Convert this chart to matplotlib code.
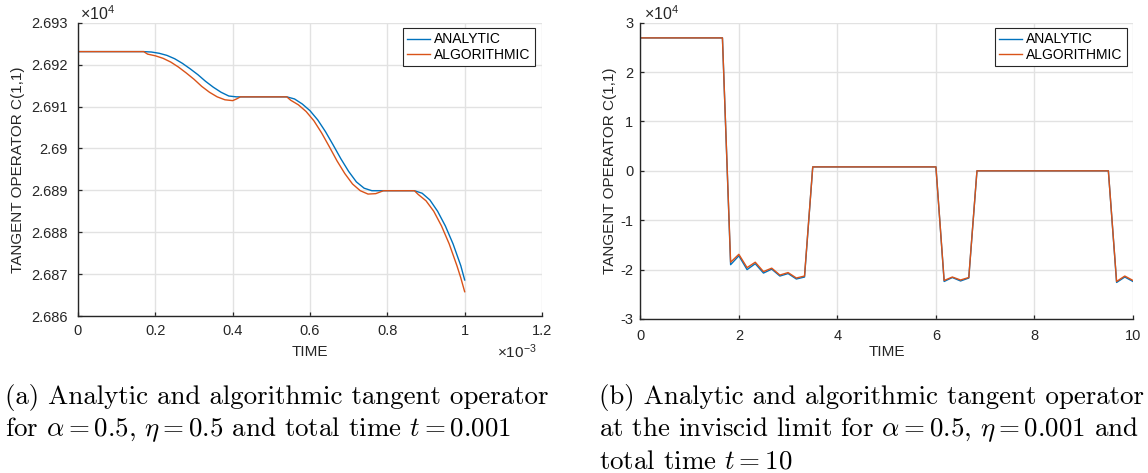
"""Tangent operator C(1,1): analytic vs algorithmic, two panels with captions."""
import matplotlib
matplotlib.use("Agg")
import matplotlib.pyplot as plt
from matplotlib.ticker import FuncFormatter

# ---- panel (a): eta = 0.5, t = 0.001 (time in 1e-3 s, C in 1e4) ----
t_ana_a = [0.00, 0.17, 0.19, 0.21, 0.23, 0.25, 0.27, 0.29, 0.31, 0.33, 0.35,
           0.37, 0.39, 0.41, 0.54, 0.56, 0.58, 0.60, 0.62, 0.64, 0.66, 0.68,
           0.70, 0.72, 0.74, 0.76, 0.87, 0.89, 0.91, 0.93, 0.95, 0.97, 0.99, 1.00]
c_ana_a = [2.69231, 2.69231, 2.69230, 2.69227, 2.69222, 2.69214, 2.69203,
           2.69190, 2.69176, 2.69160, 2.69146, 2.69134, 2.69125, 2.69123,
           2.69123, 2.69118, 2.69106, 2.69090, 2.69068, 2.69040, 2.69008,
           2.68975, 2.68945, 2.68920, 2.68905, 2.68899, 2.68899, 2.68893,
           2.68877, 2.68850, 2.68815, 2.68772, 2.68720, 2.68686]
t_alg_a = [0.00, 0.17, 0.18, 0.20, 0.22, 0.24, 0.26, 0.28, 0.30, 0.32, 0.34,
           0.36, 0.38, 0.40, 0.41, 0.42, 0.54, 0.55, 0.57, 0.59, 0.61, 0.63,
           0.65, 0.67, 0.69, 0.71, 0.73, 0.75, 0.77, 0.79, 0.87, 0.88, 0.90,
           0.92, 0.94, 0.96, 0.98, 0.99, 1.00]
c_alg_a = [2.69231, 2.69231, 2.69225, 2.69221, 2.69215, 2.69206, 2.69194,
           2.69180, 2.69165, 2.69148, 2.69134, 2.69123, 2.69116, 2.69114,
           2.69118, 2.69123, 2.69123, 2.69115, 2.69104, 2.69088, 2.69066,
           2.69037, 2.69004, 2.68970, 2.68940, 2.68915, 2.68899, 2.68891,
           2.68892, 2.68899, 2.68899, 2.68890, 2.68875, 2.68850, 2.68815,
           2.68772, 2.68720, 2.68691, 2.68658]

# ---- panel (b): inviscid limit, t = 10 (C in 1e4) ----
t_b = [0.0, 1.667, 1.833, 2.0, 2.167, 2.333, 2.5, 2.667, 2.833, 3.0, 3.167,
       3.333, 3.5, 6.0, 6.167, 6.333, 6.5, 6.667, 6.833, 9.5, 9.667, 9.833, 10.0]
c_ana_b = [2.6923, 2.6923, -1.90, -1.72, -2.00, -1.88, -2.07, -1.99, -2.13,
           -2.08, -2.19, -2.15, 0.08, 0.08, -2.24, -2.16, -2.23, -2.17, 0.00,
           0.00, -2.26, -2.15, -2.24]
c_alg_b = [2.6923, 2.6923, -1.85, -1.69, -1.96, -1.85, -2.04, -1.97, -2.11,
           -2.06, -2.17, -2.13, 0.08, 0.08, -2.22, -2.15, -2.21, -2.16, 0.00,
           0.00, -2.24, -2.13, -2.22]

labels = ["ANALYTIC", "ALGORITHMIC"]
captions_a = ["(a) Analytic and algorithmic tangent operator",
              r"for $\alpha = 0.5$, $\eta = 0.5$ and total time $t = 0.001$"]
captions_b = ["(b) Analytic and algorithmic tangent operator",
              r"at the inviscid limit for $\alpha = 0.5$, $\eta = 0.001$ and",
              r"total time $t = 10$"]

BLUE = "#0072BD"
ORANGE = "#D95319"
DARK = "#262626"

plt.rcParams["font.family"] = ["Liberation Sans", "DejaVu Sans"]
plt.rcParams["mathtext.fontset"] = "cm"
plt.rcParams["mathtext.rm"] = "Liberation Sans"
plt.rcParams["mathtext.it"] = "Liberation Sans:italic"

W, H = 1148, 473
fig = plt.figure(figsize=(W / 100, H / 100), dpi=100)


def px_axes(x0, y0, x1, y1):
    return fig.add_axes([x0 / W, 1 - y1 / H, (x1 - x0) / W, (y1 - y0) / H])


def style(ax, ypad, xpad):
    for s in ("top", "right"):
        ax.spines[s].set_visible(False)
    for s in ("left", "bottom"):
        ax.spines[s].set_color(DARK)
        ax.spines[s].set_linewidth(1.0)
    ax.grid(True, color="#e2e2e2", linewidth=1.0)
    ax.set_axisbelow(True)
    ax.tick_params(axis="both", direction="in", length=3, width=0.9,
                   colors=DARK, labelsize=10.5, labelcolor=DARK)
    ax.tick_params(axis="y", pad=ypad)
    ax.tick_params(axis="x", pad=xpad)
    fmt = FuncFormatter(lambda v, p: f"{v:g}")
    ax.xaxis.set_major_formatter(fmt)
    ax.yaxis.set_major_formatter(fmt)


def legend(ax, x, y):
    leg = ax.legend(loc="upper right", bbox_to_anchor=(x, y), borderaxespad=0,
                    fontsize=10, fancybox=False, framealpha=1, handlelength=1.7,
                    handletextpad=0.3, borderpad=0.3, labelspacing=0.1)
    leg.get_frame().set_edgecolor(DARK)
    leg.get_frame().set_linewidth(0.8)


# panel (a)
ax1 = px_axes(78, 22.7, 542, 316)
ax1.plot(t_ana_a, c_ana_a, color=BLUE, lw=1.0, label=labels[0])
ax1.plot(t_alg_a, c_alg_a, color=ORANGE, lw=1.0, label=labels[1])
ax1.set_xlim(0, 1.2)
ax1.set_ylim(2.686, 2.693)
ax1.set_xticks([0, 0.2, 0.4, 0.6, 0.8, 1.0, 1.2])
ax1.set_yticks([2.686, 2.687, 2.688, 2.689, 2.690, 2.691, 2.692, 2.693])
style(ax1, 7.5, 6)
ax1.set_xlabel("TIME", fontsize=11, va="center", color=DARK)
ax1.xaxis.set_label_coords(0.5, (316 - 352) / 293.3)
ax1.set_ylabel("TANGENT OPERATOR C(1,1)", fontsize=11, va="center", color=DARK)
ax1.yaxis.set_label_coords((18 - 78) / 464, 0.5)
ax1.text(0.004, 1.03, r"$\times10^{4}$", transform=ax1.transAxes, fontsize=11.5,
         va="center", ha="left", color=DARK, math_fontfamily="custom")
ax1.text((497 - 78) / 464, (316 - 352) / 293.3, r"$\times10^{-3}$",
         transform=ax1.transAxes, fontsize=11, va="center", ha="left",
         color=DARK, math_fontfamily="custom")
legend(ax1, (535 - 78) / 464, 1 - (28.3 - 22.7) / 293.3)

# panel (b)
ax2 = px_axes(640.3, 22.7, 1133, 319)
ax2.plot(t_b, c_ana_b, color=BLUE, lw=1.0, label=labels[0])
ax2.plot(t_b, c_alg_b, color=ORANGE, lw=1.0, label=labels[1])
ax2.set_xlim(0, 10)
ax2.set_ylim(-3, 3)
ax2.set_xticks([0, 2, 4, 6, 8, 10])
ax2.set_yticks([-3, -2, -1, 0, 1, 2, 3])
style(ax2, 5, 7)
ax2.set_xlabel("TIME", fontsize=11, va="center", color=DARK)
ax2.xaxis.set_label_coords(0.5, (319 - 352) / 296.3)
ax2.set_ylabel("TANGENT OPERATOR C(1,1)", fontsize=11, va="center", color=DARK)
ax2.yaxis.set_label_coords((610 - 640.3) / 492.7, 0.5)
ax2.text(0.008, 1.03, r"$\times10^{4}$", transform=ax2.transAxes, fontsize=11.5,
         va="center", ha="left", color=DARK, math_fontfamily="custom")
legend(ax2, (1127 - 640.3) / 492.7, 1 - (28.3 - 22.7) / 296.3)

# captions
cap_kw = dict(fontsize=19.4, family="cmr10", va="baseline", ha="left",
              color="black")
for i, line in enumerate(captions_a):
    fig.text(5 / W, 1 - (404 + 32 * i) / H, line, **cap_kw)
for i, line in enumerate(captions_b):
    fig.text(599 / W, 1 - (404 + 32 * i) / H, line, **cap_kw)

fig.savefig("out.png", dpi=100)
